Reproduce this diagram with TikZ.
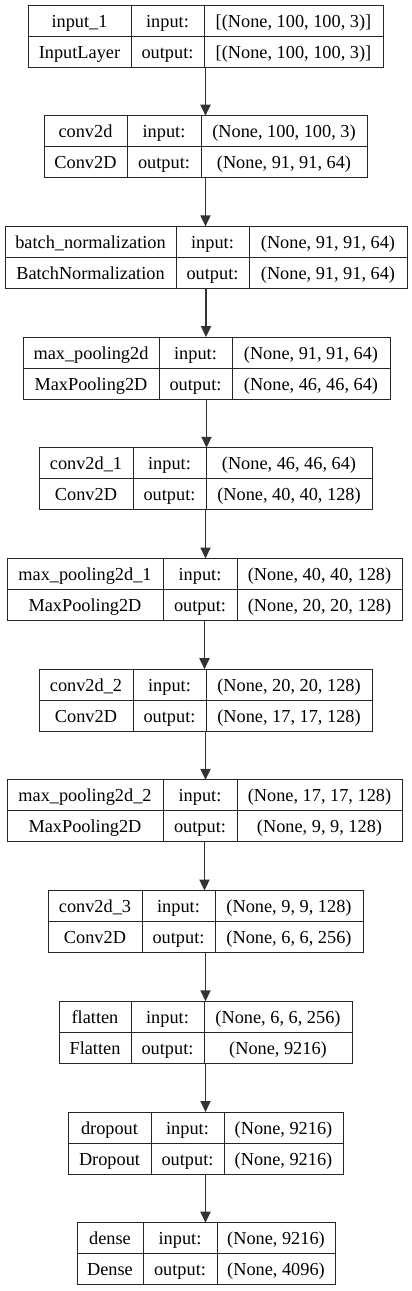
\documentclass[tikz,border=0pt]{standalone}
\usepackage{fontspec}
\setmainfont{Liberation Serif}
\usetikzlibrary{arrows.meta}

\begin{document}
\begin{tikzpicture}[x=1pt, y=-1pt,
    box/.style={draw=black!85, line width=1pt, inner sep=0pt, outer sep=0pt, anchor=north west},
    txt/.style={anchor=base, inner sep=0pt, font=\fontsize{18.3}{20}\selectfont},
    flow/.style={draw=black!80, line width=1.8pt, -{Triangle[length=11pt,width=10pt]}}]
    % page
    \useasboundingbox[fill=white] (0,0) rectangle (412,1291);

    % Draw the layer tables
    \foreach \a/\b/\c/\d/\la/\cl/\in/\out [count=\i] in {
        28/131/204/383/input\_1/InputLayer/{[(None, 100, 100, 3)]}/{[(None, 100, 100, 3)]},
        44/127/201/367/conv2d/Conv2D/{(None, 100, 100, 3)}/{(None, 91, 91, 64)},
        5/176/249/407/batch\_normalization/BatchNormalization/{(None, 91, 91, 64)}/{(None, 91, 91, 64)},
        23/159/232/390/max\_pooling2d/MaxPooling2D/{(None, 91, 91, 64)}/{(None, 46, 46, 64)},
        39/133/206/372/conv2d\_1/Conv2D/{(None, 46, 46, 64)}/{(None, 40, 40, 128)},
        7/163/237/402/max\_pooling2d\_1/MaxPooling2D/{(None, 40, 40, 128)}/{(None, 20, 20, 128)},
        39/133/206/372/conv2d\_2/Conv2D/{(None, 20, 20, 128)}/{(None, 17, 17, 128)},
        7/163/237/402/max\_pooling2d\_2/MaxPooling2D/{(None, 17, 17, 128)}/{(None, 9, 9, 128)},
        48/142/215/363/conv2d\_3/Conv2D/{(None, 9, 9, 128)}/{(None, 6, 6, 256)},
        59/131/204/352/flatten/Flatten/{(None, 6, 6, 256)}/{(None, 9216)},
        68/151/224/343/dropout/Dropout/{(None, 9216)}/{(None, 9216)},
        77/143/217/335/dense/Dense/{(None, 9216)}/{(None, 4096)}}{
        \pgfmathsetmacro\t{5+110.7*(\i-1)}
        \node[box, minimum width={(\d-\a)*1pt}, minimum height=62pt] (layer\i) at (\a,\t) {};
        \draw[black!85, line width=1pt] (\b,\t) -- (\b,\t+62) (\c,\t) -- (\c,\t+62) (\a,\t+31) -- (\d,\t+31);
        % cell texts
        \node[txt] (name\i) at ({(\a+\b)/2},\t+22) {\la};
        \node[txt] (kind\i) at ({(\a+\b)/2},\t+53) {\cl};
        \node[txt] (inlab\i) at ({(\b+\c)/2},\t+22) {input:};
        \node[txt] (outlab\i) at ({(\b+\c)/2},\t+53) {output:};
        \node[txt] (inval\i) at ({(\c+\d)/2},\t+22) {\in};
        \node[txt] (outval\i) at ({(\c+\d)/2},\t+53) {\out};
    }

    % Draw arrows between layers
    \foreach \i in {1,...,11}{
        \pgfmathtruncatemacro\j{\i+1}
        \draw[flow] (layer\i.south) -- (layer\i.south |- layer\j.north);
    }
\end{tikzpicture}
\end{document}
